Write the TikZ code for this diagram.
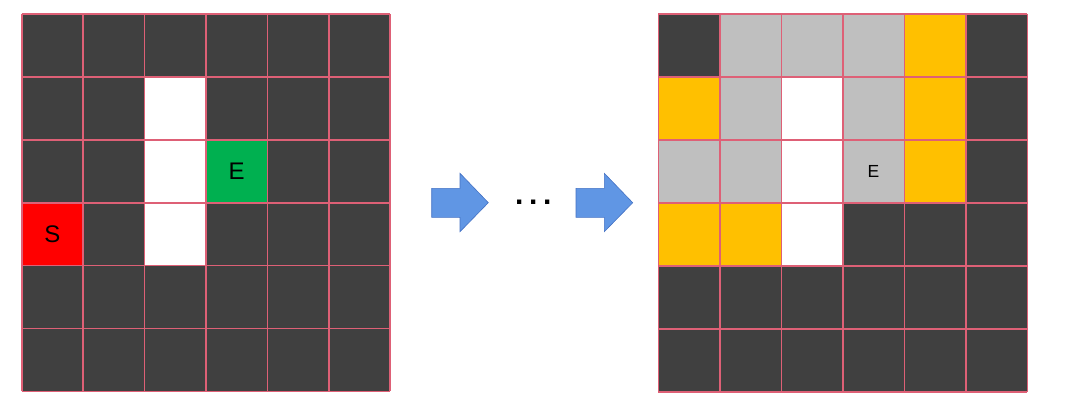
\documentclass[tikz,border=0pt]{standalone}
\usepackage{fontspec}
\setmainfont{Liberation Sans}
\definecolor{wall}{RGB}{64,64,64}
\definecolor{gridline}{RGB}{222,96,118}
\definecolor{startred}{RGB}{255,0,0}
\definecolor{endgreen}{RGB}{0,176,80}
\definecolor{visited}{RGB}{191,191,191}
\definecolor{frontier}{RGB}{255,192,0}
\definecolor{arrowblue}{RGB}{96,150,228}
\definecolor{arrowedge}{RGB}{68,114,196}
\begin{document}
\begin{tikzpicture}[x=1pt,y=-1pt,
    cellline/.style={draw=gridline, line width=1.6pt},
    stepper/.style={fill=arrowblue, draw=arrowedge, line width=0.6pt, line join=miter}]
    \useasboundingbox (0,0) rectangle (1080,412);
    % left maze
    \fill[wall] (21.7,14) rectangle (390.1,391.4);
    \foreach \c/\r/\col in {2/1/white, 2/2/white, 2/3/white, 3/2/endgreen, 0/3/startred}
        \fill[\col] (21.7+61.4*\c,14+62.9*\r) rectangle ++(61.4,62.9);
    \foreach \i in {0,...,6} {
        \draw[cellline] (21.7+61.4*\i,14) -- (21.7+61.4*\i,391.4);
        \draw[cellline] (21.7,14+62.9*\i) -- (390.1,14+62.9*\i);
    }
    \node (start) at (21.7+61.4*0.5,14+62.9*3.5) {\fontsize{24}{24}\selectfont S};
    \node (goal) at (21.7+61.4*3.5,14+62.9*2.5) {\fontsize{24}{24}\selectfont E};
    % arrows and dots
    \draw[stepper] (431.7,188.3) -- (460,188.3) -- (460,173.3) -- (488.3,202.7)
        -- (460,231.7) -- (460,217.3) -- (431.7,217.3) -- cycle;
    \node[anchor=base] (dots) at (533.3,204.8) {\fontsize{30}{30}\selectfont\textbf{.\kern5.7pt.\kern5.7pt.}};
    \draw[stepper] (576,188.3) -- (604.3,188.3) -- (604.3,173.3) -- (632.7,202.7)
        -- (604.3,231.7) -- (604.3,217.3) -- (576,217.3) -- cycle;
    % right maze
    \fill[wall] (658.3,14) rectangle (1027.3,392.2);
    \foreach \c/\r/\col in {1/0/visited, 2/0/visited, 3/0/visited, 4/0/frontier,
                            0/1/frontier, 1/1/visited, 2/1/white, 3/1/visited, 4/1/frontier,
                            0/2/visited, 1/2/visited, 2/2/white, 3/2/visited, 4/2/frontier,
                            0/3/frontier, 1/3/frontier, 2/3/white}
        \fill[\col] (658.3+61.5*\c,14+63.03*\r) rectangle ++(61.5,63.03);
    \foreach \i in {0,...,6} {
        \draw[cellline] (658.3+61.5*\i,14) -- (658.3+61.5*\i,392.2);
        \draw[cellline] (658.3,14+63.03*\i) -- (1027.3,14+63.03*\i);
    }
    \node (found) at (658.3+61.5*3.5,14+63.03*2.5) {\fontsize{17.5}{17.5}\selectfont E};
\end{tikzpicture}
\end{document}
